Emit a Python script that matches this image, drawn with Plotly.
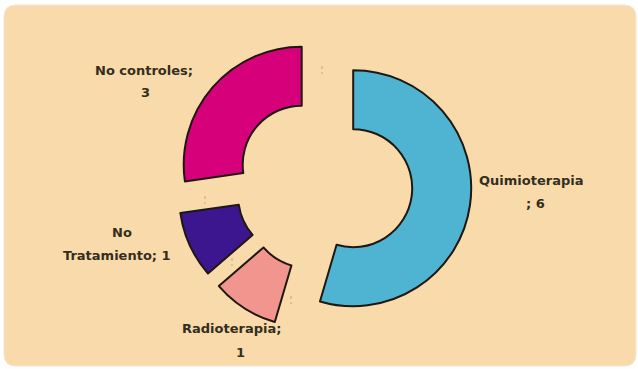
import plotly.graph_objects as go

# Treatment groups and patient counts
categories = ["Quimioterapia", "Radioterapia", "No Tratamiento", "No controles"]
counts = [6, 1, 1, 3]
colors = ["#4fb4d2", "#f2958f", "#3c168f", "#d6007a"]

# Label lines (category name + count), split over two lines each
label_line1 = ["Quimioterapia", "Radioterapia;", "No", "No controles;"]
label_line2 = [f"; {counts[0]}", f"{counts[1]}", f"Tratamiento; {counts[2]}", f"{counts[3]}"]
# label anchor points in page pixels (line 1, line 2)
label_pos = [((531, 180), (535, 203)),
             ((231, 328), (240, 352)),
             ((122, 232), (117, 255)),
             ((144, 70), (145, 92))]
# short leader ticks next to the slices (page pixels, centre of each tick)
leader_ticks = [(322, 70), (205, 200), (232, 262), (291, 300)]

W, H = 638, 369
PULL = 0.25
cx, cy, R = 324, 184, 118
half = R * (1 + PULL)

fig = go.Figure(go.Pie(
    labels=categories,
    values=counts,
    sort=False,
    direction="clockwise",
    rotation=0,
    hole=0.5,
    pull=[PULL] * len(counts),
    marker=dict(colors=colors, line=dict(color="#1f1712", width=2)),
    textinfo="none",
    hoverinfo="label+value",
    showlegend=False,
    domain=dict(x=[(cx - 200) / W, (cx + 200) / W],
                y=[(H - (cy + half)) / H, (H - (cy - half)) / H]),
))

def px(x): return x / W
def py(y): return 1 - y / H

text_font = dict(family="DejaVu Sans", size=13, color="#342e1e", weight="bold")
annotations = []
for l1, l2, (p1, p2) in zip(label_line1, label_line2, label_pos):
    for txt, (ax, ay) in ((l1, p1), (l2, p2)):
        annotations.append(dict(
            text=txt, x=px(ax), y=py(ay), xref="paper", yref="paper",
            showarrow=False, xanchor="center", yanchor="middle", font=text_font,
        ))

# rounded peach panel behind the chart
x0, x1, y0, y1, rr = 4, 636, 5, 366, 12
panel = (f"M {px(x0 + rr)},{py(y0)} L {px(x1 - rr)},{py(y0)} "
         f"Q {px(x1)},{py(y0)} {px(x1)},{py(y0 + rr)} L {px(x1)},{py(y1 - rr)} "
         f"Q {px(x1)},{py(y1)} {px(x1 - rr)},{py(y1)} L {px(x0 + rr)},{py(y1)} "
         f"Q {px(x0)},{py(y1)} {px(x0)},{py(y1 - rr)} L {px(x0)},{py(y0 + rr)} "
         f"Q {px(x0)},{py(y0)} {px(x0 + rr)},{py(y0)} Z")

shapes = [dict(type="path", path=panel, xref="paper", yref="paper",
               fillcolor="#f9dbab", line=dict(color="#efe6d8", width=1), layer="below")]
for tx, ty in leader_ticks:
    shapes.append(dict(type="line", xref="paper", yref="paper",
                       x0=px(tx), x1=px(tx), y0=py(ty - 4), y1=py(ty + 4),
                       line=dict(color="#b7a586", width=1, dash="dot")))

fig.update_layout(
    width=W, height=H,
    margin=dict(l=0, r=0, t=0, b=0),
    paper_bgcolor="white",
    plot_bgcolor="white",
    annotations=annotations,
    shapes=shapes,
)

fig.write_html("out.html")
